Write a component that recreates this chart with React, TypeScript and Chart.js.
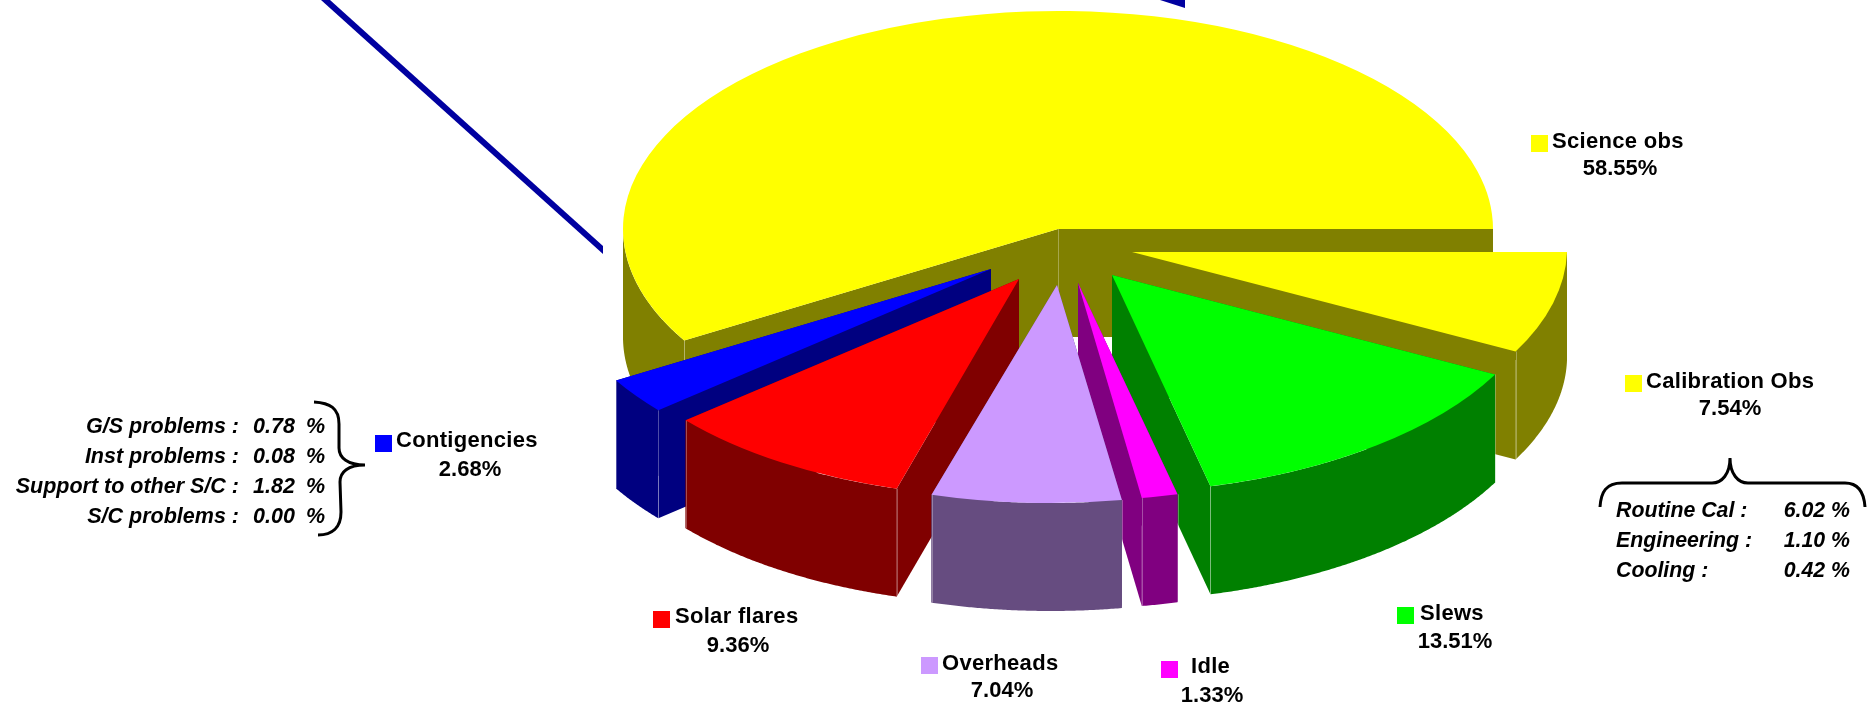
import React, { useEffect, useRef } from "react";
import { Chart, registerables } from "chart.js";

Chart.register(...registerables);

// ---- data (clockwise from the east edge of the pie) ----
const categories = ["Calibration Obs", "Slews", "Idle", "Overheads", "Solar flares", "Contigencies", "Science obs"];
const shares = [7.54, 13.51, 1.33, 7.04, 9.36, 2.68, 58.55];
const contingencyBreakdown = [
  ["G/S problems :", "0.78", "%"],
  ["Inst problems :", "0.08", "%"],
  ["Support to other S/C :", "1.82", "%"],
  ["S/C problems :", "0.00", "%"],
];
const calibrationBreakdown = [
  ["Routine Cal :", "6.02 %"],
  ["Engineering :", "1.10 %"],
  ["Cooling :", "0.42 %"],
];

// ---- styles ----
const topColors = ["#FFFF00", "#00FF00", "#FF00FF", "#CC99FF", "#FF0000", "#0000FF", "#FFFF00"];
const wallColors = ["#808000", "#008000", "#800080", "#664C80", "#800000", "#000080", "#808000"];
const explodeX = [74, 54, 20, -1, -39, -67, 0];
const explodeY = [23, 46, 54, 56, 50, 40, 0];
const sliceLean = [0.035, 0.04, 0.035, 0.03, 0.015, 0.01, 0];
const paintOrder = [6, 0, 5, 4, 1, 2, 3];
// marker x, marker y, name x, name baseline, value centre, value baseline
const labelBoxes = [
  [1625, 375, 1646, 388, 1730, 415],
  [1397, 607, 1420, 620, 1455, 648],
  [1161, 661, 1191, 673, 1212, 702],
  [921, 657, 942, 670, 1002, 697],
  [653, 611, 675, 623, 738, 652],
  [375, 435, 396, 447, 470, 476],
  [1531, 135, 1552, 148, 1620, 175],
];
const CX = 1058, CY = 229, RADIUS = 435, SQUASH = 218 / 435, DEPTH = 108;
const FONT = '"Liberation Sans", Arial, sans-serif';

const pie3d = {
  id: "pie3d",
  beforeDatasetsDraw(chart: any) {
    const ctx = chart.ctx as CanvasRenderingContext2D;
    const arcs = chart.getDatasetMeta(0).data;

    // the large orbit outline behind the pie
    ctx.fillStyle = "#0000A0";
    ctx.beginPath();
    ctx.moveTo(321, 0); ctx.lineTo(330, 0); ctx.lineTo(603, 246); ctx.lineTo(603, 254);
    ctx.closePath(); ctx.fill();
    ctx.beginPath();
    ctx.moveTo(1160, 0); ctx.lineTo(1185, 0); ctx.lineTo(1185, 8);
    ctx.closePath(); ctx.fill();

    for (const i of paintOrder) {
      const arc = arcs[i];
      const { x, y, startAngle, endAngle, outerRadius } = arc.getProps(["x", "y", "startAngle", "endAngle", "outerRadius"]);
      const lean = sliceLean[i];
      const exploded = explodeX[i] !== 0 || explodeY[i] !== 0;
      const ox = CX + explodeX[i], oy = CY + explodeY[i];
      // projected point on the rim of this slice
      const rim = (a: number): [number, number] => {
        const dy = Math.sin(a) * outerRadius * SQUASH;
        return [ox + Math.cos(a) * outerRadius - lean * dy, oy + dy];
      };
      const down = (p: [number, number]): [number, number] => [p[0], p[1] + DEPTH];
      const poly = (pts: [number, number][]) => {
        ctx.beginPath();
        pts.forEach((p, k) => (k ? ctx.lineTo(p[0], p[1]) : ctx.moveTo(p[0], p[1])));
        ctx.closePath();
        ctx.fill();
      };
      const a0 = rim(startAngle), a1 = rim(endAngle);
      // only the part of the rim that faces the viewer has a curved wall
      const frontEnd = startAngle < Math.PI ? Math.min(endAngle, Math.PI) : startAngle;
      const steps = Math.max(2, Math.ceil((frontEnd - startAngle) / 0.005));
      const rimPts: [number, number][] = [];
      for (let s = 0; s <= steps; s++) rimPts.push(rim(startAngle + ((frontEnd - startAngle) * s) / steps));

      // walls: two radial faces, the curved face and the bottom wedge
      ctx.fillStyle = wallColors[i];
      poly([[ox, oy], a0, down(a0), [ox, oy + DEPTH]]);
      poly([[ox, oy], a1, down(a1), [ox, oy + DEPTH]]);
      poly([...rimPts, ...rimPts.map(down).reverse()]);

      // faint highlight on the wall corners
      ctx.strokeStyle = "rgba(255,255,255,0.3)";
      ctx.lineWidth = 1;
      for (const [a, p] of [[startAngle, a0], [endAngle, a1]] as [number, [number, number]][]) {
        if (Math.sin(a) < 0.01) continue;
        ctx.beginPath();
        ctx.moveTo(Math.round(p[0]) + 0.5, p[1]);
        ctx.lineTo(Math.round(p[0]) + 0.5, p[1] + DEPTH);
        ctx.stroke();
      }
      if (!exploded) {
        ctx.beginPath();
        ctx.moveTo(ox + 0.5, oy);
        ctx.lineTo(ox + 0.5, oy + DEPTH);
        ctx.stroke();
      }
      // top face: the library's own arc element
      ctx.save();
      ctx.translate(ox, oy);
      ctx.transform(1, 0, -lean * SQUASH, SQUASH, 0, 0);
      ctx.translate(-x, -y);
      arc.draw(ctx);
      ctx.restore();
    }
    return false;
  },
  afterDraw(chart: any) {
    const ctx = chart.ctx as any;
    ctx.textBaseline = "alphabetic";
    ctx.fillStyle = "#000";
    // slice labels
    categories.forEach((name, i) => {
      const [mx, my, tx, ty, vx, vy] = labelBoxes[i];
      ctx.fillStyle = topColors[i];
      ctx.fillRect(mx, my, 17, 17);
      ctx.fillStyle = "#000";
      ctx.font = `bold 22px ${FONT}`;
      ctx.textAlign = "left";
      ctx.letterSpacing = "0.3px";
      ctx.fillText(name, tx, ty);
      ctx.letterSpacing = "0px";
      ctx.textAlign = "center";
      ctx.fillText(`${shares[i].toFixed(2)}%`, vx, vy);
    });
    // contingency breakdown
    ctx.font = `italic bold 21.5px ${FONT}`;
    contingencyBreakdown.forEach(([name, value, unit], r) => {
      const y = 433 + r * 30;
      ctx.textAlign = "right";
      ctx.fillText(name, 239, y);
      ctx.textAlign = "left";
      ctx.fillText(value, 253, y);
      ctx.fillText(unit, 306, y);
    });
    // calibration breakdown
    ctx.font = `italic bold 21.3px ${FONT}`;
    calibrationBreakdown.forEach(([name, value], r) => {
      const y = 517 + r * 30;
      ctx.textAlign = "left";
      ctx.fillText(name, 1616, y);
      ctx.textAlign = "right";
      ctx.fillText(value, 1850, y);
    });
    // braces
    ctx.strokeStyle = "#000";
    ctx.lineWidth = 3;
    ctx.beginPath();
    ctx.moveTo(314, 402);
    ctx.bezierCurveTo(330, 403, 339, 408, 339, 424);
    ctx.lineTo(339, 448);
    ctx.bezierCurveTo(339, 458, 348, 465, 365, 465);
    ctx.bezierCurveTo(348, 465, 340, 472, 340, 482);
    ctx.lineTo(341, 512);
    ctx.bezierCurveTo(341, 528, 332, 535, 318, 535);
    ctx.stroke();
    ctx.beginPath();
    ctx.moveTo(1600, 507);
    ctx.bezierCurveTo(1601, 492, 1606, 483, 1622, 483);
    ctx.lineTo(1712, 483);
    ctx.bezierCurveTo(1722, 483, 1730, 474, 1730, 458);
    ctx.bezierCurveTo(1730, 474, 1738, 483, 1748, 483);
    ctx.lineTo(1845, 483);
    ctx.bezierCurveTo(1858, 483, 1864, 492, 1865, 507);
    ctx.stroke();
  },
};

export default function App() {
  const ref = useRef<HTMLCanvasElement>(null);
  useEffect(() => {
    const chart = new Chart(ref.current!, {
      type: "pie",
      data: {
        labels: categories,
        datasets: [{ data: shares, backgroundColor: topColors, borderWidth: 0 }],
      },
      options: {
        responsive: false,
        animation: false,
        rotation: 90,
        radius: RADIUS,
        layout: { padding: 0 },
        events: [],
        plugins: { legend: { display: false }, tooltip: { enabled: false } },
      } as any,
      plugins: [pie3d as any],
    });
    return () => chart.destroy();
  }, []);
  return (
    <canvas
      ref={ref}
      width={1876}
      height={706}
      style={{ position: "absolute", left: 0, top: 0, display: "block" }}
    />
  );
}
